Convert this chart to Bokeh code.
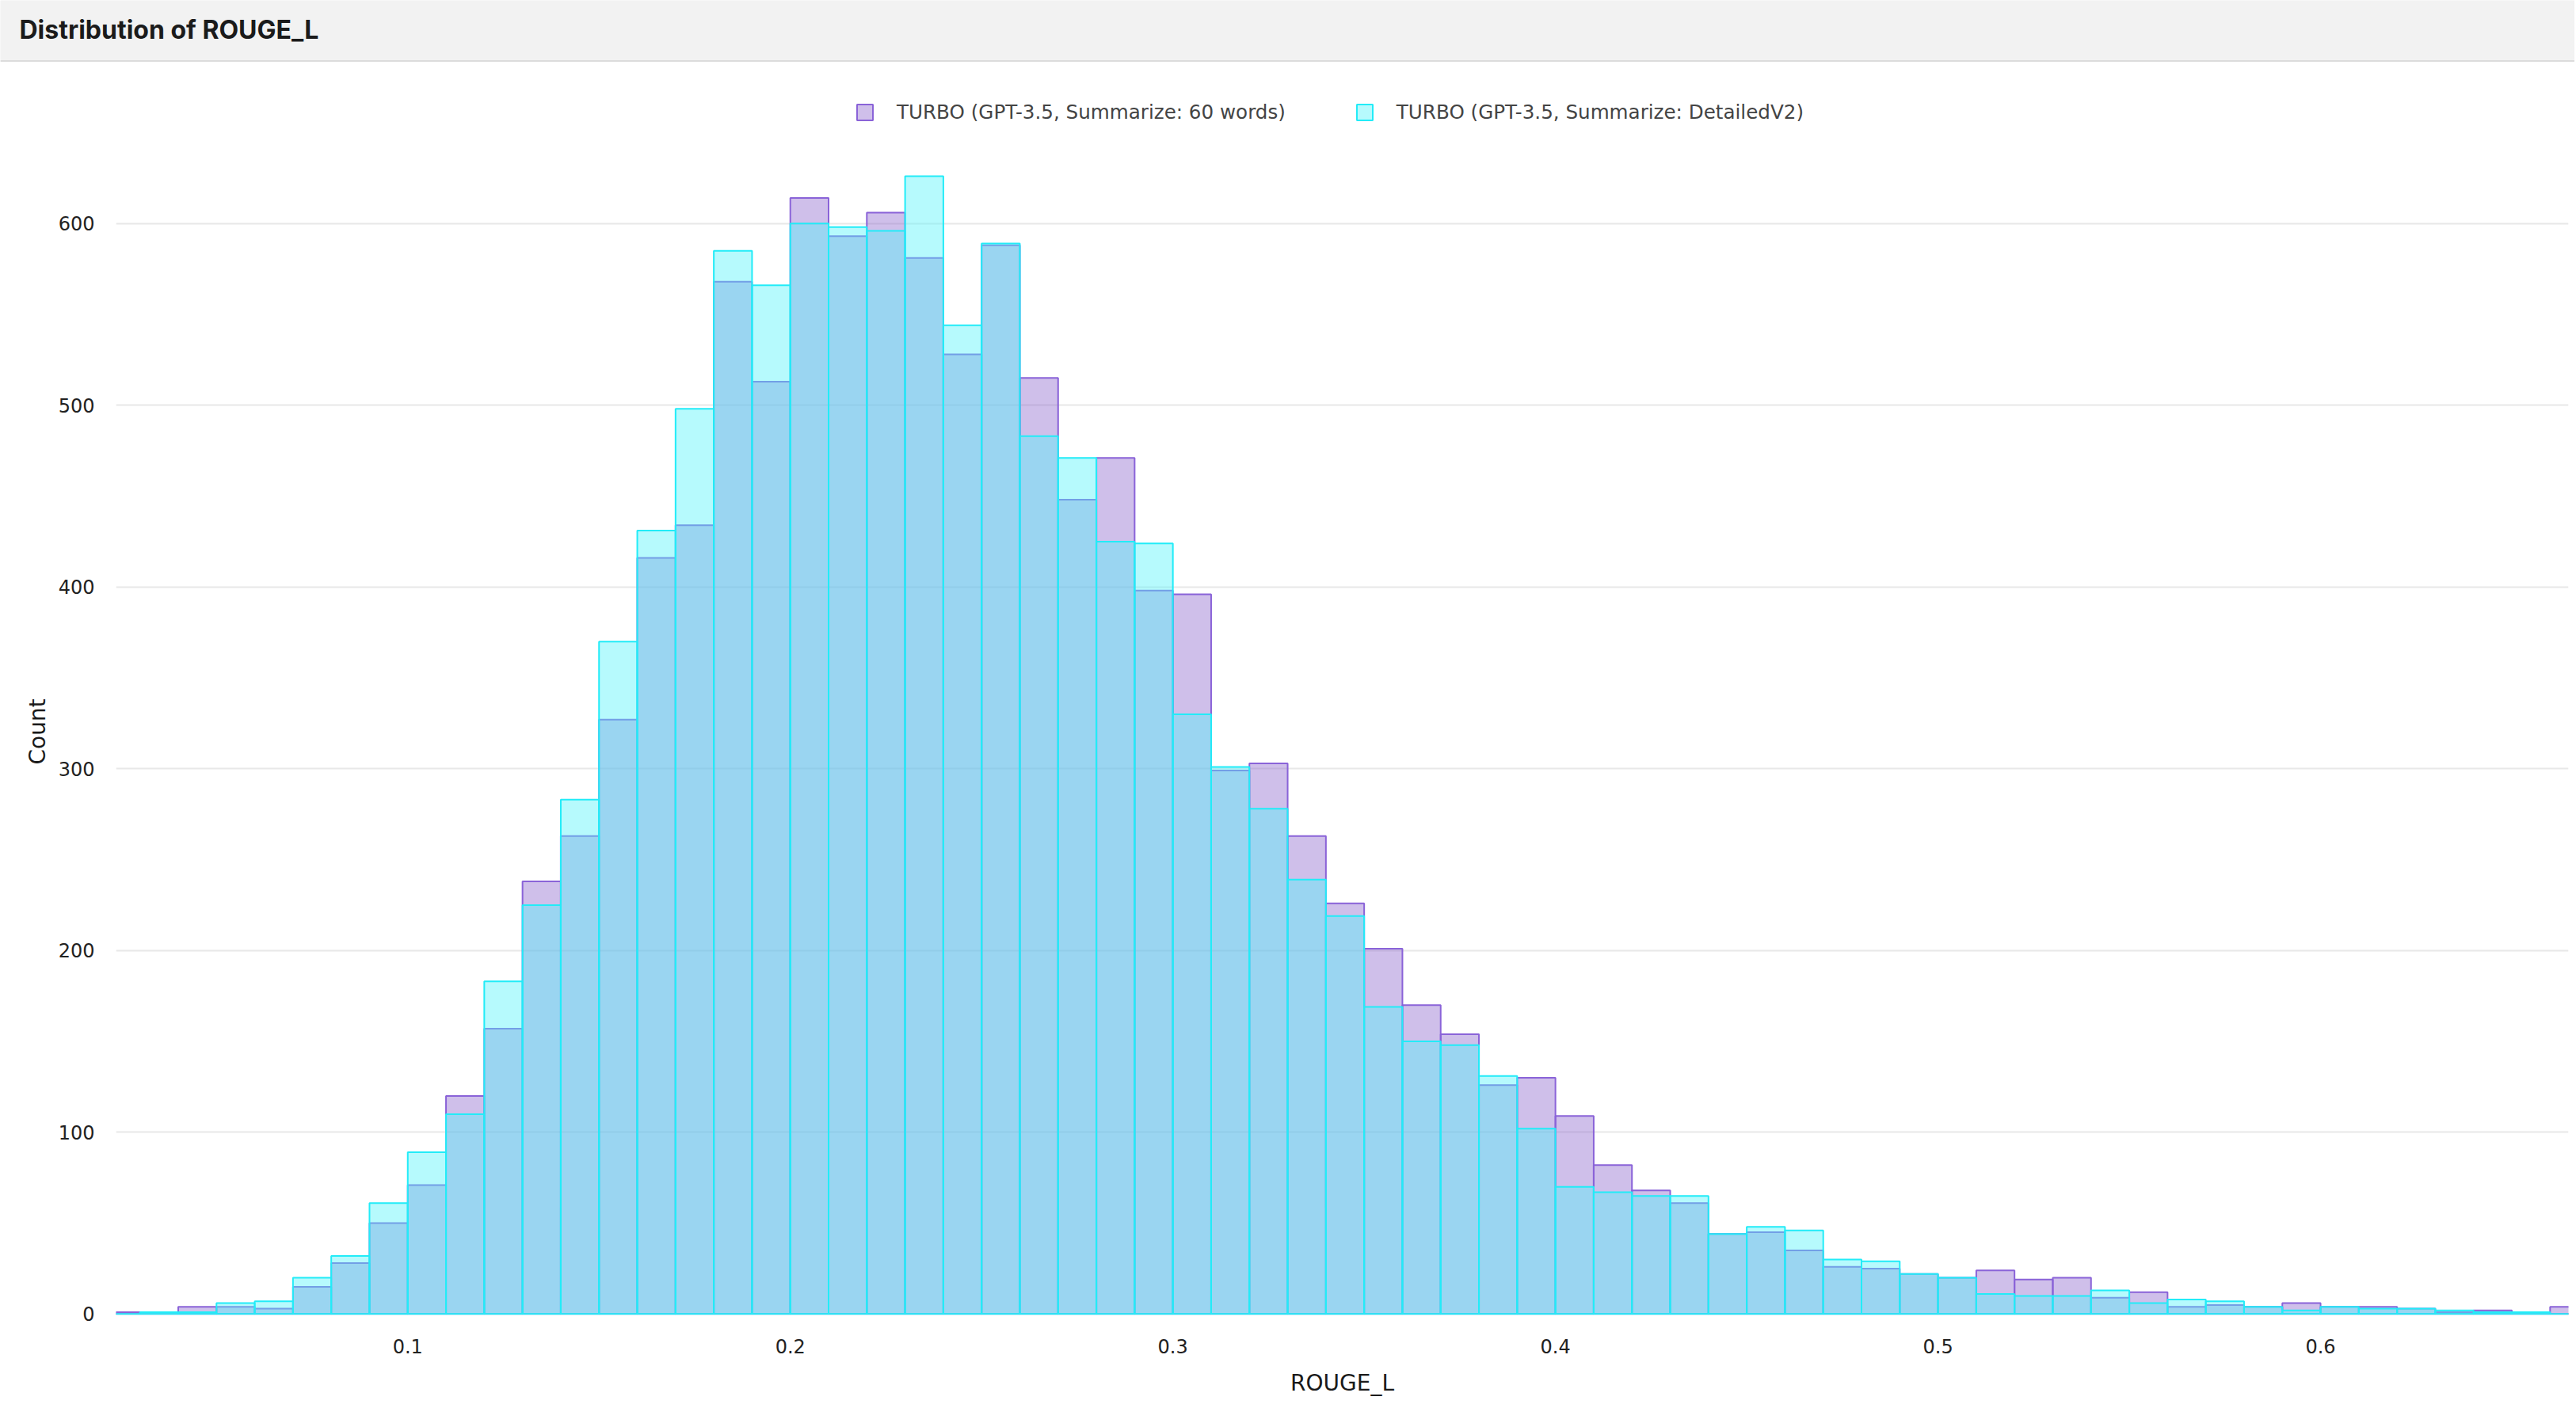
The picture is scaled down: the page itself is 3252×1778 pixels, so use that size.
import numpy as np
from bokeh.plotting import figure
from bokeh.models import Legend, LegendItem, FixedTicker, ColumnDataSource, Range1d, Title
from bokeh.layouts import column
from bokeh.embed import file_html
from bokeh.resources import INLINE
from bokeh.core.properties import value

# ---------------- data ----------------
title_text = "Distribution of ROUGE_L"
x_label = "ROUGE_L"
y_label = "Count"
series_names = [
    "TURBO (GPT-3.5, Summarize: 60 words)",
    "TURBO (GPT-3.5, Summarize: DetailedV2)",
]
bin_start = 0.02
bin_width = 0.01

counts_60_words = [
    1, 0, 4, 4, 3, 15, 28, 50, 71, 120,
    157, 238, 263, 327, 416, 434, 568, 513, 614, 593,
    606, 581, 528, 588, 515, 448, 471, 398, 396, 299,
    303, 263, 226, 201, 170, 154, 126, 130, 109, 82,
    68, 61, 44, 45, 35, 26, 25, 22, 20, 24,
    19, 20, 9, 12, 4, 5, 4, 6, 4, 4,
    3, 1, 2, 0, 4,
]
counts_detailed_v2 = [
    0, 1, 1, 6, 7, 20, 32, 61, 89, 110,
    183, 225, 283, 370, 431, 498, 585, 566, 600, 598,
    596, 626, 544, 589, 483, 471, 425, 424, 330, 301,
    278, 239, 219, 169, 150, 148, 131, 102, 70, 67,
    65, 65, 44, 48, 46, 30, 29, 22, 20, 11,
    10, 10, 13, 6, 8, 7, 4, 2, 4, 3,
    3, 2, 1, 1, 0,
]
x_ticks = [0.1, 0.2, 0.3, 0.4, 0.5, 0.6]
y_ticks = [0, 100, 200, 300, 400, 500, 600]

n_bins = len(counts_60_words)
lefts = [round(bin_start + i * bin_width, 4) for i in range(n_bins)]
rights = [round(l + bin_width, 4) for l in lefts]

# ---------------- layout constants ----------------
W = 3250
TOP_H = 78
MAIN_H = 1698
FONT = "DejaVu Sans"

# ---------------- title band ----------------
top = figure(width=W, height=TOP_H, x_range=Range1d(0, W), y_range=Range1d(0, TOP_H),
             toolbar_location=None, output_backend="svg", min_border=0,
             x_axis_type=None, y_axis_type=None)
top.frame_align = False
top.background_fill_color = "#f2f2f2"
top.border_fill_color = "#f2f2f2"
top.outline_line_color = None
top.quad(left=[0], right=[W], bottom=[0], top=[2.6], fill_color="#dcdcdc", line_color=None)
top.text(x=[24], y=[41.5], text=[title_text], text_font=value("Inter"),
         text_font_style="bold", text_font_size="32px", text_color="#1b1b1b",
         text_baseline="middle", text_align="left")

# ---------------- main histogram ----------------
px_per_unit = 2.2952
mb_top, mb_bottom = 20, 116
frame_h = MAIN_H - mb_top - mb_bottom
y_start = -0.5
y_end = y_start + frame_h / px_per_unit

p = figure(width=W, height=MAIN_H,
           x_range=Range1d(0.02375, 0.6648), y_range=Range1d(y_start, y_end),
           toolbar_location=None, output_backend="svg",
           min_border_left=146, min_border_right=8,
           min_border_top=mb_top, min_border_bottom=mb_bottom)
p.frame_align = False
p.background_fill_color = "white"
p.border_fill_color = "white"
p.outline_line_color = None

src_a = ColumnDataSource(dict(left=lefts, right=rights, top=counts_60_words))
src_b = ColumnDataSource(dict(left=lefts, right=rights, top=counts_detailed_v2))

r_a = p.quad(left="left", right="right", top="top", bottom=0, source=src_a,
             fill_color="#875fca", fill_alpha=0.4,
             line_color="#8a63d8", line_width=2)
r_b = p.quad(left="left", right="right", top="top", bottom=0, source=src_b,
             fill_color="#51f3fa", fill_alpha=0.42,
             line_color="#22ecf8", line_width=2)

# axes
xa = p.xaxis[0]
xa.ticker = FixedTicker(ticks=x_ticks)
xa.axis_label = x_label
ya = p.yaxis[0]
ya.ticker = FixedTicker(ticks=y_ticks)
for ax in (xa, ya):
    ax.axis_line_color = None
    ax.major_tick_line_color = None
    ax.minor_tick_line_color = None
    ax.major_tick_out = 0
    ax.major_tick_in = 0
    ax.minor_tick_out = 0
    ax.major_label_text_font = FONT
    ax.major_label_text_font_size = "24px"
    ax.major_label_text_color = "#222222"
    ax.axis_label_text_font = FONT
    ax.axis_label_text_font_size = "28px"
    ax.axis_label_text_font_style = "normal"
    ax.axis_label_text_color = "#1a1a1a"
xa.major_label_standoff = 30
xa.axis_label_standoff = 18
ya.major_label_standoff = 27

# y-axis title placed to match the reference (centered on the visible data area)
count_title = Title(text=y_label, align="left", offset=695, standoff=14,
                    text_font=FONT, text_font_size="28px", text_font_style="normal",
                    text_color="#1a1a1a")
p.add_layout(count_title, "left")

p.xgrid.grid_line_color = None
p.ygrid.grid_line_color = "#e8e8e8"
p.ygrid.grid_line_width = 2
p.ygrid.ticker = FixedTicker(ticks=y_ticks)

legend = Legend(
    items=[LegendItem(label=series_names[0], renderers=[r_a]),
           LegendItem(label=series_names[1], renderers=[r_b])],
    orientation="horizontal",
    location=(933, 1504),
    glyph_width=25, glyph_height=25,
    label_standoff=28, spacing=87,
    padding=0, margin=0,
    border_line_color=None, background_fill_alpha=0,
    label_text_font=FONT, label_text_font_size="24.6px",
    label_text_color="#444444",
)
p.add_layout(legend, "center")

layout = column(top, p, spacing=0)
open("out.html", "w").write(file_html(layout, INLINE))
